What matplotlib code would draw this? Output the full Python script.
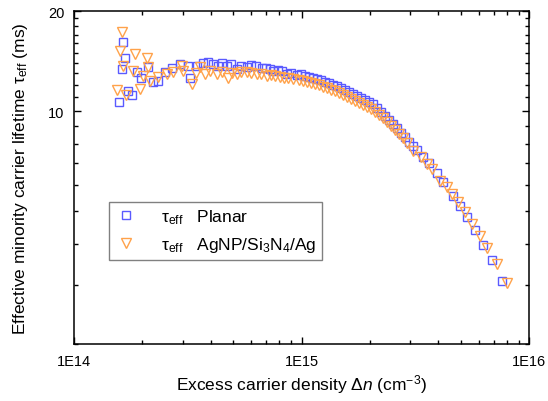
import matplotlib
matplotlib.use("Agg")
import matplotlib.pyplot as plt
from matplotlib.ticker import FixedLocator, NullFormatter, FixedFormatter, LogLocator

plt.rcParams['font.family'] = ['Liberation Sans', 'DejaVu Sans']
plt.rcParams['mathtext.fontset'] = 'custom'
plt.rcParams['mathtext.rm'] = 'Liberation Sans'
plt.rcParams['mathtext.it'] = 'Liberation Sans:italic'
plt.rcParams['mathtext.bf'] = 'Liberation Sans:bold'

# Planar (blue squares)
dn_planar = [1.57e14, 1.62e14, 1.65e14, 1.68e14, 1.73e14, 1.79e14, 1.89e14, 1.98e14, 2.12e14, 2.23e14,
             2.35e14, 2.51e14, 2.69e14, 2.92e14, 3.18e14, 3.24e14, 3.46e14, 3.69e14, 3.89e14, 4.08e14,
             4.31e14, 4.47e14, 4.69e14, 4.90e14, 5.19e14, 5.42e14, 5.74e14, 6.00e14, 6.31e14, 6.69e14,
             6.98e14, 7.27e14, 7.52e14, 7.88e14, 8.21e14, 8.61e14, 8.99e14, 9.53e14, 9.95e14, 1.036e15,
             1.079e15, 1.123e15, 1.170e15, 1.218e15, 1.269e15, 1.321e15, 1.376e15, 1.432e15, 1.492e15, 1.554e15,
             1.618e15, 1.684e15, 1.754e15, 1.826e15, 1.902e15, 1.980e15, 2.062e15, 2.147e15, 2.236e15, 2.328e15,
             2.425e15, 2.525e15, 2.629e15, 2.737e15, 2.851e15, 2.969e15, 3.091e15, 3.219e15, 3.420e15, 3.635e15,
             3.940e15, 4.188e15, 4.634e15, 4.975e15, 5.341e15, 5.788e15, 6.279e15, 6.878e15, 7.608e15]
tau_planar = [10.64, 13.39, 16.11, 14.42, 11.53, 11.19, 13.09, 12.56, 13.60, 12.22,
              12.35, 13.09, 13.46, 13.86, 13.70, 12.56, 13.70, 13.96, 14.08, 13.86,
              13.70, 13.96, 13.70, 13.86, 13.39, 13.67, 13.55, 13.77, 13.67, 13.46,
              13.49, 13.39, 13.23, 13.30, 13.21, 12.93, 13.02, 12.85, 12.93, 12.76,
              12.67, 12.59, 12.50, 12.42, 12.24, 12.16, 11.99, 11.91, 11.74, 11.58,
              11.42, 11.27, 11.11, 10.96, 10.81, 10.66, 10.51, 10.23, 9.95, 9.68,
              9.41, 9.16, 8.90, 8.60, 8.37, 8.08, 7.86, 7.65, 7.29, 6.99,
              6.52, 6.13, 5.57, 5.19, 4.81, 4.40, 3.97, 3.58, 3.09]

# AgNP/Si3N4/Ag (orange triangles)
dn_agnp = [1.55e14, 1.59e14, 1.62e14, 1.64e14, 1.70e14, 1.82e14, 1.85e14, 1.96e14, 2.02e14, 2.09e14,
           2.12e14, 2.16e14, 2.35e14, 2.56e14, 2.73e14, 2.97e14, 3.02e14, 3.29e14, 3.44e14, 3.58e14,
           3.77e14, 3.96e14, 4.24e14, 4.47e14, 4.77e14, 4.95e14, 5.19e14, 5.42e14, 5.74e14, 6.00e14,
           6.36e14, 6.64e14, 7.03e14, 7.34e14, 7.65e14, 8.05e14, 8.38e14, 8.72e14, 9.20e14,
           9.75e14, 1.015e15, 1.057e15, 1.101e15, 1.146e15, 1.193e15, 1.242e15, 1.294e15, 1.348e15, 1.404e15,
           1.461e15, 1.522e15, 1.585e15, 1.650e15, 1.718e15, 1.789e15, 1.863e15, 1.940e15, 2.020e15, 2.103e15,
           2.190e15, 2.281e15, 2.375e15, 2.474e15, 2.576e15, 2.682e15, 2.792e15,
           2.909e15, 3.091e15, 3.351e15, 3.562e15, 3.746e15, 4.063e15, 4.362e15, 4.587e15, 4.874e15,
           5.233e15, 5.617e15, 6.090e15, 6.537e15, 7.233e15, 8.003e15]
tau_agnp = [11.61, 15.20, 17.33, 13.70, 11.19, 13.23, 14.86, 11.66, 12.73, 14.42,
            13.55, 12.35, 12.65, 12.93, 13.14, 13.70, 13.23, 12.07, 13.02, 13.55,
            12.93, 13.21, 12.93, 13.12, 12.56, 13.02, 12.93, 13.12, 13.09, 13.02,
            12.93, 12.93, 12.79, 12.85, 12.76, 12.65, 12.59, 12.59, 12.50,
            12.42, 12.33, 12.24, 12.16, 12.07, 11.99, 11.83, 11.74, 11.58, 11.50,
            11.35, 11.19, 11.03, 10.88, 10.73, 10.58, 10.44, 10.30, 10.16, 9.95,
            9.74, 9.54, 9.28, 9.03, 8.78, 8.54, 8.31,
            8.03, 7.60, 7.29, 6.94, 6.71, 6.17, 5.92, 5.64, 5.34,
            4.98, 4.59, 4.22, 3.88, 3.48, 3.05]

x_major = [1e14, 1e15, 1e16]
x_labels = ['1E14', '1E15', '1E16']
y_major = [10, 20]
y_labels = ['10', '20']
y_minor = [2, 3, 4, 5, 6, 7, 8, 9, 11, 12, 13, 14, 15, 16, 17, 18, 19]

blue = '#5a5aff'
orange = '#ffa24a'

fig = plt.figure(figsize=(5.48, 4.02), dpi=100)
ax = fig.add_axes([74/548, 57/402, 455/548, 333/402])

ax.plot(dn_planar, tau_planar, ls='none', marker='s', ms=5.6, mfc='none', mec=blue, mew=1.0,
        label='τ$_{\\rm eff}$   Planar')
ax.plot(dn_agnp, tau_agnp, ls='none', marker='v', ms=7.6, mfc='none', mec=orange, mew=1.0,
        label='τ$_{\\rm eff}$   AgNP/Si$_3$N$_4$/Ag')

ax.set_xscale('log')
ax.set_yscale('log')
ax.set_xlim(1e14, 1e16)
ax.set_ylim(2, 20)

ax.xaxis.set_major_locator(FixedLocator(x_major))
ax.xaxis.set_major_formatter(FixedFormatter(x_labels))
ax.xaxis.set_minor_locator(LogLocator(base=10, subs=[2, 3, 4, 5, 6, 7, 8, 9]))
ax.xaxis.set_minor_formatter(NullFormatter())
ax.yaxis.set_major_locator(FixedLocator(y_major))
ax.yaxis.set_major_formatter(FixedFormatter(y_labels))
ax.yaxis.set_minor_locator(FixedLocator(y_minor))
ax.yaxis.set_minor_formatter(NullFormatter())

ax.tick_params(which='both', direction='in', top=True, right=True, width=1.0, labelsize=10.5)
ax.tick_params(which='major', length=5, pad=7)
ax.tick_params(which='minor', length=3)
for s in ax.spines.values():
    s.set_linewidth(1.1)

ax.set_xlabel('Excess carrier density $\\Delta\\mathit{n}$ (cm$^{-3}$)', fontsize=12.5, labelpad=3)
ax.set_ylabel('Effective minority carrier lifetime τ$_{\\rm eff}$ (ms)', fontsize=12.5, labelpad=13)

leg = ax.legend(loc='upper left', bbox_to_anchor=((109-74)/455, (345-203)/333), borderaxespad=0,
                fancybox=False, edgecolor='#808080', fontsize=12.5, handlelength=1.4, handletextpad=1.3,
                borderpad=0.3, labelspacing=0.55, framealpha=1)
leg.get_frame().set_linewidth(1.0)

fig.savefig('out.png', dpi=100)
